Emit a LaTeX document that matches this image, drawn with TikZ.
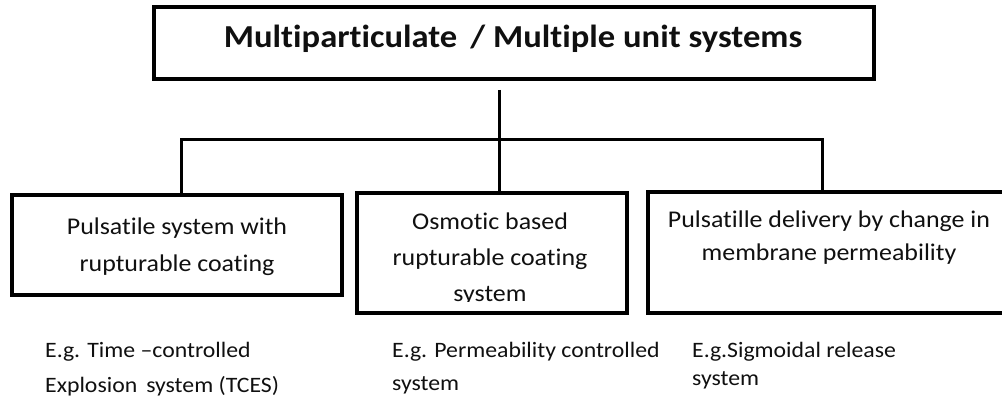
\documentclass[tikz,border=0pt]{standalone}
\usepackage{fontspec}
\setmainfont[FakeStretch=1.08,Ligatures=NoCommon]{Carlito}
\definecolor{txt}{HTML}{101010}
\begin{document}
\begin{tikzpicture}[x=1pt,y=-1pt,
  box/.style={draw=black,line width=3.2pt,inner sep=0pt,fill=white},
  conn/.style={draw=black,line width=3pt},
  boxtext/.style={text=txt,align=center,inner sep=0pt,anchor=base,font=\fontsize{24}{37}\selectfont},
  egtext/.style={text=txt,align=left,inner sep=0pt,anchor=base west,font=\fontsize{22}{33}\selectfont}]
\clip (0,0) rectangle (1002,396);
\fill[white] (0,0) rectangle (1002,396);
% boxes
\node[box,minimum width=720pt,minimum height=72pt] (top) at (514,43) {};
\node[box,minimum width=330pt,minimum height=100pt] (left) at (177,245) {};
\node[box,minimum width=270pt,minimum height=120pt] (mid) at (492,253) {};
\node[box,minimum width=362pt,minimum height=121pt] (right) at (829,252.5) {};
% connectors
\coordinate (j0) at (499,90);
\coordinate (cL) at (181,139);
\coordinate (cR) at (822,139);
\draw[conn] (j0) -- (j0 |- mid.north);
\draw[conn] (cL |- left.north) -- (cL) -- (cR) -- (cR |- right.north);
% texts (anchor base = baseline of last line)
\node[text=txt,inner sep=0pt,anchor=base,font=\bfseries\fontsize{32}{38}\selectfont] (ttl) at (513,48) {Multiparticulate \,/ Multiple unit systems};
\node[boxtext] (tl) at (177,271) {Pulsatile system with\\rupturable coating};
\begin{scope}
\clip (357,193) rectangle (627,301.5);
\node[boxtext,font=\fontsize{24}{36}\selectfont] (tm) at (490,301) {Osmotic based\\rupturable coating\\system};
\end{scope}
\node[boxtext,font=\fontsize{24}{33}\selectfont] (tr) at (829,260) {Pulsatille delivery by change in\\membrane permeability};
\node[egtext,font=\fontsize{22}{35}\selectfont] (el) at (45,392) {E.g. Time –controlled\\Explosion \,system (TCES)};
\node[egtext] (em) at (392,390) {E.g. Permeability controlled\\system};
\node[egtext,font=\fontsize{22}{28}\selectfont] (er) at (692,385) {E.g.Sigmoidal release\\system};
\end{tikzpicture}
\end{document}
